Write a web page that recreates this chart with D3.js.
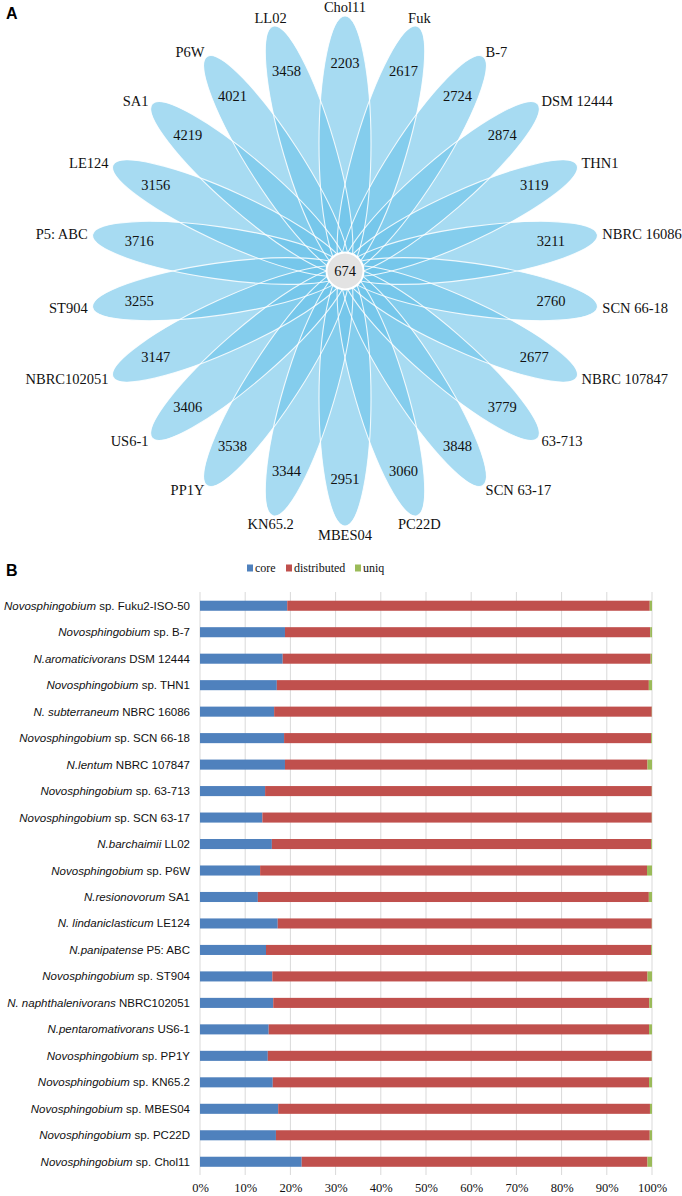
<!DOCTYPE html>
<html>
<head>
<meta charset="utf-8">
<script src="https://cdn.jsdelivr.net/npm/d3@7"></script>
<style>
  html, body { margin: 0; padding: 0; background: #fff; }
  svg { display: block; }
</style>
</head>
<body>
<svg id="chart" width="682" height="1196"></svg>
<script>
// ---------- Panel A data (flower diagram) ----------
const petalNames = ["Chol11","Fuk","B-7","DSM 12444","THN1","NBRC 16086","SCN 66-18","NBRC 107847","63-713","SCN 63-17","PC22D","MBES04","KN65.2","PP1Y","US6-1","NBRC102051","ST904","P5: ABC","LE124","SA1","P6W","LL02"];
const petalCounts = [2203,2617,2724,2874,3119,3211,2760,2677,3779,3848,3060,2951,3344,3538,3406,3147,3255,3716,3156,4219,4021,3458];
const coreCount = 674;

// ---------- Panel B data (stacked percent bars) ----------
const speciesItalic = ["Novosphingobium","Novosphingobium","N.aromaticivorans","Novosphingobium","N. subterraneum","Novosphingobium","N.lentum","Novosphingobium","Novosphingobium","N.barchaimii","Novosphingobium","N.resionovorum","N. lindaniclasticum","N.panipatense","Novosphingobium","N. naphthalenivorans","N.pentaromativorans","Novosphingobium","Novosphingobium","Novosphingobium","Novosphingobium","Novosphingobium"];
const strainNames = [" sp. Fuku2-ISO-50"," sp. B-7"," DSM 12444"," sp. THN1"," NBRC 16086"," sp. SCN 66-18"," NBRC 107847"," sp. 63-713"," sp. SCN 63-17"," LL02"," sp. P6W"," SA1"," LE124"," P5: ABC"," sp. ST904"," NBRC102051"," US6-1"," sp. PP1Y"," sp. KN65.2"," sp. MBES04"," sp. PC22D"," sp. Chol11"];
const corePct = [19.3,18.8,18.3,17.0,16.4,18.6,18.8,14.4,13.8,15.9,13.3,12.8,17.2,14.6,16.0,16.2,15.2,15.0,16.1,17.3,16.8,22.5];
const uniqPct = [0.5,0.4,0.3,0.7,0.05,0.2,1.0,0.05,0.05,0.2,1.1,0.7,0.05,0.2,1.0,0.6,0.65,0.05,0.65,0.45,0.5,1.0];
const seriesKeys = ["core","distributed","uniq"];
const seriesColors = ["#4f81bd","#c0504d","#9bbb59"];
const xTicks = [0,10,20,30,40,50,60,70,80,90,100];

const svg = d3.select("#chart");
const serif = "'Liberation Serif','Times New Roman',serif";
const sans = "'Liberation Sans',Arial,sans-serif";

// ---------- Panel letters ----------
svg.append("text").attr("x", 6).attr("y", 19).text("A")
  .attr("font-family", sans).attr("font-weight", "bold").attr("font-size", 16);
svg.append("text").attr("x", 6).attr("y", 576).text("B")
  .attr("font-family", sans).attr("font-weight", "bold").attr("font-size", 16);

// ---------- Flower ----------
const cx = 345, cy = 271;
const petalLen = 255, petalHalfW = 26;
const angle = d3.scaleLinear().domain([0, petalNames.length]).range([0, 360]);
const petals = petalNames.map((n, i) => ({name: n, count: petalCounts[i], a: angle(i)}));

const flower = svg.append("g").attr("transform", `translate(${cx},${cy})`);
flower.selectAll("ellipse.fill").data(petals).join("ellipse")
  .attr("class", "fill")
  .attr("cx", 0).attr("cy", -petalLen / 2)
  .attr("rx", petalHalfW).attr("ry", petalLen / 2)
  .attr("transform", d => `rotate(${d.a})`)
  .attr("fill", "rgb(108,195,234)").attr("fill-opacity", 0.6);
flower.selectAll("ellipse.edge").data(petals).join("ellipse")
  .attr("class", "edge")
  .attr("cx", 0).attr("cy", -petalLen / 2)
  .attr("rx", petalHalfW).attr("ry", petalLen / 2)
  .attr("transform", d => `rotate(${d.a})`)
  .attr("fill", "none").attr("stroke", "#ffffff").attr("stroke-width", 1.1).attr("stroke-opacity", 0.85);

const rad = d => d.a * Math.PI / 180;
flower.selectAll("text.count").data(petals).join("text")
  .attr("class", "count")
  .attr("x", d => 208 * Math.sin(rad(d)))
  .attr("y", d => -208 * Math.cos(rad(d)))
  .attr("text-anchor", "middle").attr("dominant-baseline", "central")
  .attr("font-family", serif).attr("font-size", 14.5).attr("fill", "#111")
  .text(d => d.count);

flower.selectAll("text.name").data(petals).join("text")
  .attr("class", "name")
  .each(function(d) {
    const s = Math.sin(rad(d)), c = Math.cos(rad(d));
    let anchor = "middle", r = 264;
    if (s > 0.3) { anchor = "start"; r = 260; }
    else if (s < -0.3) { anchor = "end"; r = 260; }
    d3.select(this)
      .attr("x", r * s)
      .attr("y", -r * c)
      .attr("text-anchor", anchor);
  })
  .attr("dominant-baseline", "central")
  .attr("font-family", serif).attr("font-size", 14.5).attr("fill", "#111")
  .text(d => d.name);

flower.append("circle").attr("r", 18.5)
  .attr("fill", "#e3e3e3").attr("stroke", "#ffffff").attr("stroke-width", 2);
flower.append("text").attr("text-anchor", "middle").attr("dominant-baseline", "central")
  .attr("font-family", serif).attr("font-size", 14.5).attr("fill", "#111")
  .text(coreCount);

// ---------- Stacked bars ----------
const cats = speciesItalic.map((s, i) => s + strainNames[i]);
const rows = cats.map((c, i) => ({cat: c, core: corePct[i], uniq: uniqPct[i], distributed: 100 - corePct[i] - uniqPct[i]}));

const x = d3.scaleLinear().domain([0, 100]).range([200, 652]);
const y = d3.scaleBand().domain(cats).range([592.5, 1175]).paddingInner(0.62).paddingOuter(0.31);

// gridlines
svg.append("g").selectAll("line").data(xTicks).join("line")
  .attr("x1", d => x(d)).attr("x2", d => x(d))
  .attr("y1", 592).attr("y2", 1175)
  .attr("stroke", "#d9d9d9").attr("stroke-width", 1);

const stack = d3.stack().keys(seriesKeys)(rows);
svg.append("g").selectAll("g").data(stack).join("g")
  .attr("fill", (d, i) => seriesColors[i])
  .selectAll("rect").data(d => d).join("rect")
  .attr("x", d => x(d[0]))
  .attr("width", d => Math.max(0, x(d[1]) - x(d[0])))
  .attr("y", d => y(d.data.cat))
  .attr("height", y.bandwidth());

// category labels
const labels = svg.append("g").selectAll("text").data(cats).join("text")
  .attr("x", 190).attr("y", d => y(d) + y.bandwidth() / 2)
  .attr("text-anchor", "end").attr("dominant-baseline", "central")
  .attr("font-family", sans).attr("font-size", 11.5).attr("fill", "#111");
labels.append("tspan").attr("font-style", "italic").text((d, i) => speciesItalic[i]);
labels.append("tspan").text((d, i) => strainNames[i]);

// x axis labels
const xAxis = d3.axisBottom(x).tickValues(xTicks).tickFormat(d => d + "%").tickSize(0);
const ax = svg.append("g").attr("transform", "translate(0,1182)").call(xAxis);
ax.select(".domain").remove();
ax.selectAll("text").attr("font-family", serif).attr("font-size", 12.5).attr("fill", "#111").attr("dy", "0.55em");

// legend
const legendX = [247, 286, 355];
const lg = svg.append("g").selectAll("g").data(seriesKeys).join("g")
  .attr("transform", (d, i) => `translate(${legendX[i]},568)`);
lg.append("rect").attr("x", 0).attr("y", -3.5).attr("width", 6).attr("height", 7)
  .attr("fill", (d, i) => seriesColors[i]);
lg.append("text").attr("x", 8).attr("y", 0).attr("dominant-baseline", "central")
  .attr("font-family", serif).attr("font-size", 12).attr("fill", "#111").text(d => d);
</script>
</body>
</html>
